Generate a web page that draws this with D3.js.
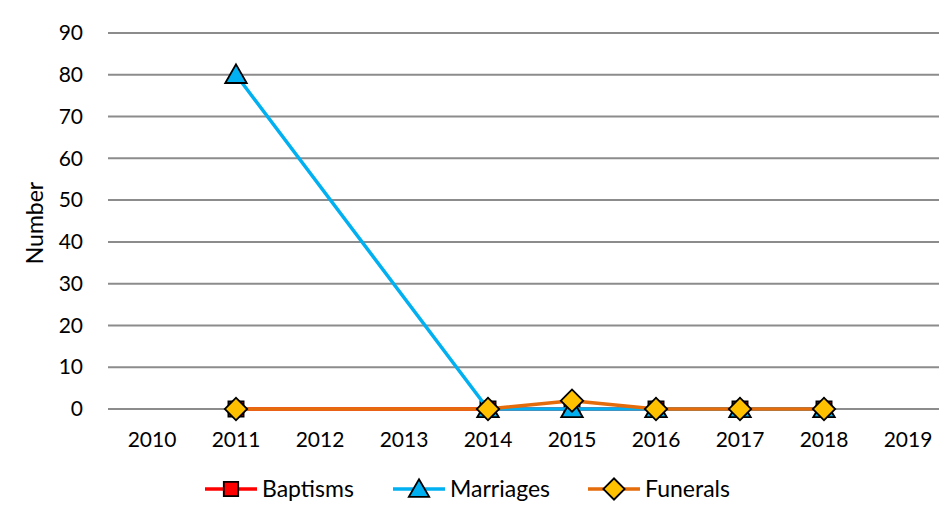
<!DOCTYPE html>
<html>
<head>
<meta charset="utf-8">
<script src="https://cdn.jsdelivr.net/npm/d3@7"></script>
<style>
  body { margin: 0; background: #fff; }
  svg text { font-family: Lato, "Open Sans", sans-serif; fill: #000; }
</style>
</head>
<body>
<svg id="chart"></svg>
<script>
// chart data
var years = ["2010","2011","2012","2013","2014","2015","2016","2017","2018","2019"];
var baptisms  = [null, 0, null, null, 0, 0, 0, 0, 0, null];
var marriages = [null, 80, null, null, 0, 0, 0, 0, 0, null];
var funerals  = [null, 0, null, null, 0, 2, 0, 0, 0, null];
var yTicks = [0,10,20,30,40,50,60,70,80,90];
var seriesNames = ["Baptisms","Marriages","Funerals"];

var svgWidth = 939, svgHeight = 515;

var svg = d3.select("#chart")
    .attr("width", svgWidth)
    .attr("height", svgHeight);

var x = d3.scaleBand()
    .domain(years)
    .range([110, 950]);

var y = d3.scaleLinear()
    .domain([0, 90])
    .range([409, 33]);

// gridlines
svg.append("g")
  .selectAll("line")
  .data(yTicks)
  .enter()
  .append("line")
    .attr("x1", 108)
    .attr("x2", svgWidth)
    .attr("y1", function(d){ return y(d); })
    .attr("y2", function(d){ return y(d); })
    .attr("stroke", "#8c8c8c")
    .attr("stroke-width", 2);

// y axis labels
var yAxis = d3.axisLeft(y).tickValues(yTicks).tickSize(0).tickPadding(0);
var gy = svg.append("g").attr("transform", "translate(83,0)").call(yAxis);
gy.select(".domain").remove();
gy.selectAll("text").style("font-size", "21px").attr("fill", "#000")
  .style("font-family", "Lato, 'Open Sans', sans-serif");

// x axis labels
var xAxis = d3.axisBottom(x).tickSize(0).tickPadding(0);
var gx = svg.append("g").attr("transform", "translate(0,432)").call(xAxis);
gx.select(".domain").remove();
gx.selectAll("text").style("font-size", "21px").attr("fill", "#000")
  .style("font-family", "Lato, 'Open Sans', sans-serif");

svg.append("text")
    .attr("transform", "translate(43,223) rotate(-90)")
    .attr("text-anchor", "middle")
    .style("font-size", "23px")
    .text("Number");

var series = [
  {name: seriesNames[0], values: baptisms,  line: "#ff0000", fill: "#ff0000", shape: d3.symbolSquare,   size: 230, rot: 0,  dy: 0},
  {name: seriesNames[1], values: marriages, line: "#00b0f0", fill: "#00b0f0", shape: d3.symbolTriangle, size: 200, rot: 0,  dy: 2},
  {name: seriesNames[2], values: funerals,  line: "#e46c0a", fill: "#ffc000", shape: d3.symbolSquare,   size: 250, rot: 45, dy: 0}
];

var cx = function(i){ return x(years[i]) + x.bandwidth() / 2; };

series.forEach(function(s){
  var pts = s.values.map(function(v, i){ return {i: i, v: v}; })
      .filter(function(d){ return d.v !== null; });

  svg.append("path")
      .datum(pts)
      .attr("fill", "none")
      .attr("stroke", s.line)
      .attr("stroke-width", 3.5)
      .attr("stroke-linejoin", "round")
      .attr("d", d3.line()
        .x(function(d){ return cx(d.i); })
        .y(function(d){ return y(d.v); }));

  svg.append("g")
    .selectAll("path")
    .data(pts)
    .enter()
    .append("path")
      .attr("transform", function(d){
        return "translate(" + [cx(d.i), y(d.v) + s.dy] + ") rotate(" + s.rot + ")";
      })
      .attr("d", d3.symbol().type(s.shape).size(s.size))
      .attr("fill", s.fill)
      .attr("stroke", "#000")
      .attr("stroke-width", 1.8);
});

// legend
var legendX = [205, 393, 588];
series.forEach(function(s, i){
  var g = svg.append("g").attr("transform", "translate(" + legendX[i] + ",489)");
  g.append("line")
      .attr("x1", 0).attr("x2", 52)
      .attr("stroke", s.line)
      .attr("stroke-width", 3.5);
  g.append("path")
      .attr("transform", "translate(26," + s.dy + ") rotate(" + s.rot + ")")
      .attr("d", d3.symbol().type(s.shape).size(s.size * 0.9))
      .attr("fill", s.fill)
      .attr("stroke", "#000")
      .attr("stroke-width", 1.8);
  g.append("text")
      .attr("x", 57)
      .attr("y", 8)
      .style("font-size", "23px")
      .text(s.name);
});
</script>
</body>
</html>
